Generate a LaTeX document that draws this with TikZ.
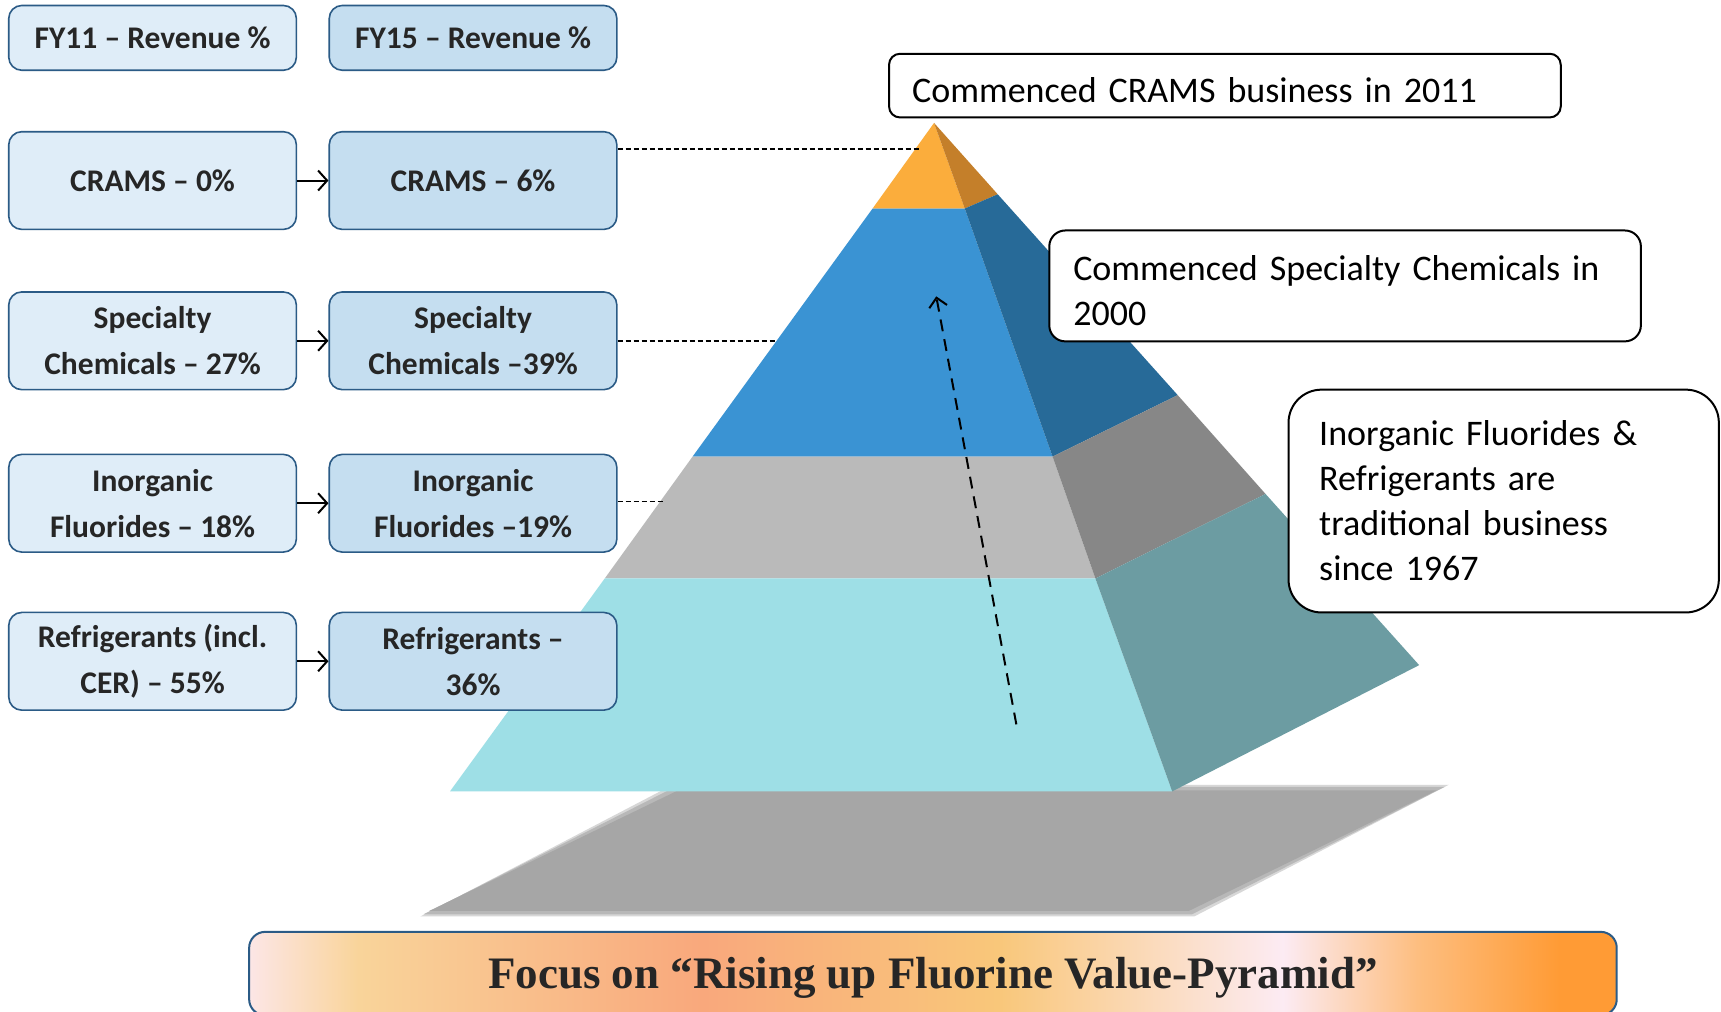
\documentclass[tikz,border=0pt]{standalone}
\usepackage{fontspec}
\setmainfont{Carlito}
\newfontfamily\titlefont{Liberation Serif}
\usetikzlibrary{arrows.meta}
\definecolor{boxA}{HTML}{DFEDF8}
\definecolor{boxB}{HTML}{C5DEF0}
\definecolor{boxline}{HTML}{2B5B86}
\definecolor{txt}{HTML}{262626}
\definecolor{orF}{HTML}{FBAD3C}
\definecolor{orR}{HTML}{C47F2A}
\definecolor{blF}{HTML}{3A93D3}
\definecolor{blR}{HTML}{276A98}
\definecolor{grF}{HTML}{BABABA}
\definecolor{grR}{HTML}{878787}
\definecolor{tlF}{HTML}{9EDFE6}
\definecolor{tlR}{HTML}{6C9CA2}
\definecolor{shadowc}{HTML}{A6A6A6}
\definecolor{bn1}{HTML}{FCE6E6}
\definecolor{bn2}{HTML}{F9D49A}
\definecolor{bn3}{HTML}{F9A87C}
\definecolor{bn4}{HTML}{F9C77A}
\definecolor{bn5}{HTML}{FCEBF3}
\definecolor{bn6}{HTML}{FDBE80}
\definecolor{bn7}{HTML}{FF9B35}
\pgfdeclarehorizontalshading{banner}{100bp}{color(0bp)=(bn1); color(25bp)=(bn1); color(29bp)=(bn2); color(41.6bp)=(bn3); color(52.4bp)=(bn4); color(62.8bp)=(bn5); color(67.7bp)=(bn6); color(72.9bp)=(bn7); color(100bp)=(bn7)}
\tikzset{
  lbox/.style={draw=boxline, line width=1.6pt, rounded corners=13pt, inner sep=0pt,
    minimum width=287.6pt, minimum height=97.7pt, align=center, text=txt,
    font=\bfseries\fontsize{31.5}{46}\selectfont},
  fy/.style={minimum height=64.8pt},
  colA/.style={lbox, fill=boxA},
  colB/.style={lbox, fill=boxB},
  conn/.style={line width=2pt, -{Straight Barb[length=9pt,width=20pt]}},
  dl/.style={line width=1.8pt, dash pattern=on 5pt off 3pt},
  upar/.style={line width=2pt, dash pattern=on 12pt off 8pt, -{Straight Barb[length=9pt,width=18pt]}},
  callout/.style={draw=black, line width=2pt, fill=white, inner ysep=0pt, align=left,
    font=\fontsize{36}{45}\selectfont, text=black},
  bannerbox/.style={shade, shading=banner, draw=boxline, line width=2pt, rounded corners=16pt,
    minimum width=1367.6pt, minimum height=83.4pt, inner sep=0pt, text=txt,
    font=\titlefont\bfseries\fontsize{45}{50}\selectfont}
}
\begin{document}
\begin{tikzpicture}[x=1.0976pt, y=-1.0976pt]
\useasboundingbox (0,0) rectangle (1568,922);
\clip (0,0) rectangle (1568,922);
\fill[white] (0,0) rectangle (1568,922);

% shadow
\fill[shadowc!45] (383,835) -- (613,715) -- (1320,715) -- (1088,835) -- cycle;
\fill[shadowc!80] (386,833) -- (615,717) -- (1316,717) -- (1086,833) -- cycle;
\fill[shadowc] (391,830) -- (618,720) -- (1309,720) -- (1083,830) -- cycle;

% pyramid points
\coordinate (P) at (851,112);
\coordinate (L1) at (795,190);
\coordinate (L2) at (631,416);
\coordinate (L3) at (551,527);
\coordinate (L4) at (410,721);
\coordinate (R1) at (879,190);
\coordinate (R2) at (959,416);
\coordinate (R3) at (998,527);
\coordinate (R4) at (1068,721);
\coordinate (B1) at (909,177);
\coordinate (B2) at (1073,360);
\coordinate (B3) at (1153,450);
\coordinate (B4) at (1293,606);

\fill[orF] (P) -- (L1) -- (R1) -- cycle;
\fill[orR] (P) -- (R1) -- (B1) -- cycle;
\fill[blF] (L1) -- (L2) -- (R2) -- (R1) -- cycle;
\fill[blR] (R1) -- (R2) -- (B2) -- (B1) -- cycle;
\fill[grF] (L2) -- (L3) -- (R3) -- (R2) -- cycle;
\fill[grR] (R2) -- (R3) -- (B3) -- (B2) -- cycle;
\fill[tlF] (L3) -- (L4) -- (R4) -- (R3) -- cycle;
\fill[tlR] (R3) -- (R4) -- (B4) -- (B3) -- cycle;

% left boxes
\node[colA, fy] (a0) at (139,34.5) {FY11 – Revenue \%};
\node[colB, fy] (b0) at (431,34.5) {FY15 – Revenue \%};
\node[colA] (a1) at (139,164.5) {CRAMS – 0\%};
\node[colB] (b1) at (431,164.5) {CRAMS – 6\%};
\node[colA] (a2) at (139,310.5) {Specialty\\Chemicals – 27\%};
\node[colB] (b2) at (431,310.5) {Specialty\\Chemicals –39\%};
\node[colA] (a3) at (139,458.5) {Inorganic\\Fluorides – 18\%};
\node[colB] (b3) at (431,458.5) {Inorganic\\Fluorides –19\%};
\node[colA] (a4) at (139,602.5) {Refrigerants (incl.\\CER) – 55\%};
\node[colB] (b4) at (431,602.5) {Refrigerants –\\36\%};

\draw[conn] (a1) -- (b1);
\draw[conn] (a2) -- (b2);
\draw[conn] (a3) -- (b3);
\draw[conn] (a4) -- (b4);

% dashed leaders
\coordinate (d1) at (838,136);
\coordinate (d2) at (708,311);
\coordinate (d3) at (604,457);
\draw[dl] (b1.east |- d1) -- (d1);
\draw[dl] (b2.east |- d2) -- (d2);
\draw[dl] (b3.east |- d3) -- (d3);

% rising arrow
\coordinate (ua) at (926,660);
\coordinate (ub) at (853,270);
\draw[upar] (ua) -- (ub);

% callouts
\node[callout, rounded corners=11pt, minimum width=671.7pt, minimum height=63.7pt,
  inner xsep=23pt, text width=625.6pt, text height=34pt, text depth=0pt] (cA) at (1116,78) {Commenced CRAMS business in 2011};
\node[callout, rounded corners=16pt, minimum width=591.6pt, minimum height=110.9pt,
  inner xsep=24pt, text width=543.6pt, text height=34pt] (cB) at (1225.5,260.5) {Commenced Specialty Chemicals in\\2000};
\node[callout, rounded corners=33pt, minimum width=430.3pt, minimum height=222.8pt,
  inner xsep=30.7pt, text width=368.9pt] (cC) at (1370,456.5) {Inorganic Fluorides \&\\Refrigerants are\\traditional business\\since 1967};

% banner
\node[bannerbox, text height=40pt, text depth=10pt] (title) at (850,887) {Focus on “Rising up Fluorine Value-Pyramid”};
\end{tikzpicture}
\end{document}
